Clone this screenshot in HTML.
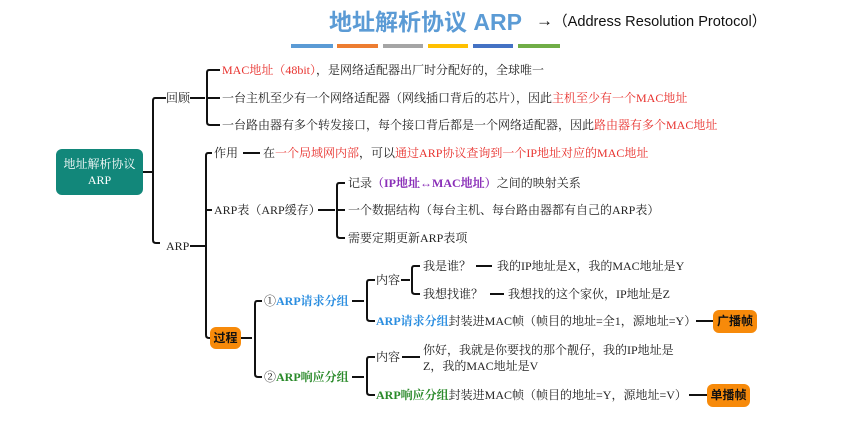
<!DOCTYPE html>
<html><head><meta charset="utf-8"><style>
body{margin:0;width:843px;height:426px;background:#fff;overflow:hidden;position:relative;font-family:"Liberation Serif","Noto Serif CJK SC",serif;font-size:12px;color:#222}
.t{position:absolute;white-space:nowrap;line-height:14px}
.r{color:#e8322e}.b{color:#2b8ee0;font-weight:bold}.g{color:#2a8a2a;font-weight:bold}.p{color:#8a2fb8;font-weight:bold}
.ob{position:absolute;background:#f78a0a;border-radius:6px;font-weight:bold;font-family:"Liberation Sans","Noto Sans CJK SC",sans-serif;font-size:12px;text-align:center;color:#111}
</style></head><body>
<div class="t" style="left:329px;top:8px;font-size:23px;line-height:28px;font-weight:bold;color:#5b9bd5;font-family:'Liberation Sans','Noto Sans CJK SC',sans-serif">地址解析协议 ARP</div>
<div class="t" style="left:536px;top:12px;font-size:14.6px;line-height:18px;font-family:'Liberation Sans','Noto Sans CJK SC',sans-serif;color:#111"><span style="font-size:17px">→</span>（Address Resolution Protocol）</div>
<div style="position:absolute;top:44px;left:291px;width:42px;height:4px;background:#5b9bd5"></div>
<div style="position:absolute;top:44px;left:337px;width:41px;height:4px;background:#ed7d31"></div>
<div style="position:absolute;top:44px;left:383px;width:40px;height:4px;background:#a5a5a5"></div>
<div style="position:absolute;top:44px;left:428px;width:40px;height:4px;background:#ffc000"></div>
<div style="position:absolute;top:44px;left:473px;width:40px;height:4px;background:#4472c4"></div>
<div style="position:absolute;top:44px;left:518px;width:42px;height:4px;background:#70ad47"></div>

<svg width="843" height="426" style="position:absolute;left:0;top:0" fill="none" stroke="#111" stroke-width="2">
<path d="M143 172H153M166 98H155Q153 98 153 101V240Q153 243 156 243H160"/>
<path d="M190 98H205M220 70H209Q207 70 207 73V122Q207 125 210 125H220M207 98H220"/>
<path d="M190 246H205M212 153H208Q206 153 206 156V335Q206 338 209 338H210M206 210H212"/>
<path d="M243 153H260"/>
<path d="M318 210H335M345 183H339Q337 183 337 186V235Q337 238 340 238H345M337 210H345"/>
<path d="M241 338H252M262 301H257Q255 301 255 304V374Q255 377 258 377H262"/>
<path d="M352 301H364M375 280H369Q367 280 367 283V318Q367 321 370 321H375"/>
<path d="M401 280H410M420 266H414Q412 266 412 269V291Q412 294 415 294H420"/>
<path d="M476 266H492M490 294H504"/>
<path d="M696 321H713"/>
<path d="M352 377H364M375 357H369Q367 357 367 360V392Q367 395 370 395H375"/>
<path d="M402 357H420"/>
<path d="M689 395H707"/>
</svg>

<div style="position:absolute;left:56px;top:149px;width:87px;height:46px;background:#12877a;border-radius:6px;color:#fff;text-align:center;font-size:12px;line-height:16px;padding-top:7px;box-sizing:border-box">地址解析协议<br>ARP</div>

<div class="t" style="left:166px;top:91px">回顾</div>
<div class="t" style="left:222px;top:63px"><span class="r">MAC地址（48bit）</span>，是网络适配器出厂时分配好的，全球唯一</div>
<div class="t" style="left:222px;top:91px">一台主机至少有一个网络适配器（网线插口背后的芯片），因此<span class="r">主机至少有一个MAC地址</span></div>
<div class="t" style="left:222px;top:118px">一台路由器有多个转发接口，每个接口背后都是一个网络适配器，因此<span class="r">路由器有多个MAC地址</span></div>

<div class="t" style="left:166px;top:239px">ARP</div>
<div class="t" style="left:214px;top:146px">作用</div>
<div class="t" style="left:263px;top:146px">在<span class="r">一个局域网内部</span>，可以<span class="r">通过ARP协议查询到一个IP地址对应的MAC地址</span></div>
<div class="t" style="left:214px;top:203px">ARP表（ARP缓存）</div>
<div class="t" style="left:348px;top:176px">记录<span class="p">（IP地址↔MAC地址）</span>之间的映射关系</div>
<div class="t" style="left:348px;top:203px">一个数据结构（每台主机、每台路由器都有自己的ARP表）</div>
<div class="t" style="left:348px;top:231px">需要定期更新ARP表项</div>

<div class="ob" style="left:210px;top:327px;width:31px;height:22px;line-height:22px">过程</div>
<div class="t" style="left:264px;top:294px">①<span class="b">ARP请求分组</span></div>
<div class="t" style="left:376px;top:273px">内容</div>
<div class="t" style="left:423px;top:259px">我是谁？</div>
<div class="t" style="left:497px;top:259px">我的IP地址是X，我的MAC地址是Y</div>
<div class="t" style="left:423px;top:287px">我想找谁？</div>
<div class="t" style="left:508px;top:287px">我想找的这个家伙，IP地址是Z</div>
<div class="t" style="left:376px;top:314px"><span class="b">ARP请求分组</span>封装进MAC帧（帧目的地址=全1，源地址=Y）</div>
<div class="ob" style="left:713px;top:310px;width:44px;height:23px;line-height:23px">广播帧</div>

<div class="t" style="left:264px;top:370px">②<span class="g">ARP响应分组</span></div>
<div class="t" style="left:376px;top:350px">内容</div>
<div class="t" style="left:423px;top:343px">你好，我就是你要找的那个靓仔，我的IP地址是</div>
<div class="t" style="left:423px;top:359px">Z，我的MAC地址是V</div>
<div class="t" style="left:376px;top:388px"><span class="g">ARP响应分组</span>封装进MAC帧（帧目的地址=Y，源地址=V）</div>
<div class="ob" style="left:707px;top:384px;width:43px;height:23px;line-height:23px">单播帧</div>
</body></html>
